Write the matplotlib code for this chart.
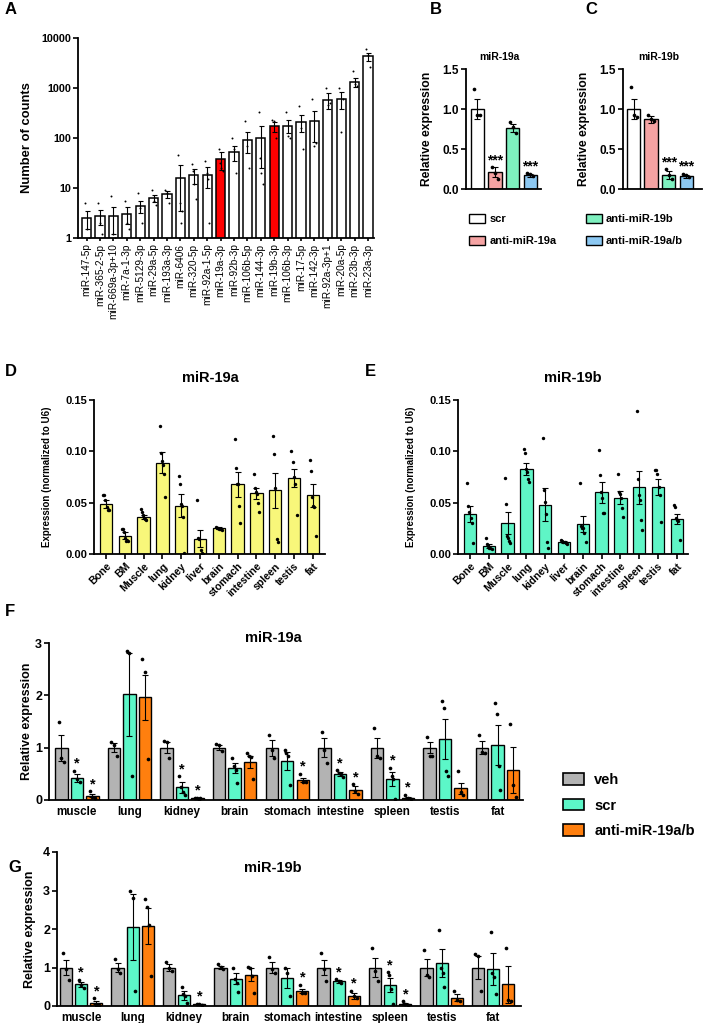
import numpy as np
import matplotlib
matplotlib.use("Agg")
from matplotlib import pyplot as plt
from matplotlib.patches import Patch
from matplotlib.ticker import FixedLocator, NullLocator

plt.rcParams['font.family'] = ['Liberation Sans', 'DejaVu Sans']
plt.rcParams['font.weight'] = 'bold'

# ---------------- data ----------------
# panel A: small RNA counts
mirs = ['miR-147-5p', 'miR-365-2-5p', 'miR-669a-3p+10', 'miR-7a-1-3p', 'miR-5129-3p',
        'miR-29a-5p', 'miR-193a-3p', 'miR-6406', 'miR-320-5p', 'miR-92a-1-5p',
        'miR-19a-3p', 'miR-92b-3p', 'miR-106b-5p', 'miR-144-3p', 'miR-19b-3p',
        'miR-106b-3p', 'miR-17-5p', 'miR-142-3p', 'miR-92a-3p+1', 'miR-20a-5p',
        'miR-23b-3p', 'miR-23a-3p']
counts = [2.5, 2.7, 2.7, 3.0, 4.4, 6.2, 7.5, 16, 18, 18, 38, 52, 92, 100, 170,
          175, 210, 215, 580, 600, 1300, 4300]
counts_err = [1.0, 0.9, 1.5, 1.1, 1.2, 1.0, 1.3, 12.5, 6, 8, 15, 17, 42, 75, 40,
              50, 80, 130, 200, 220, 250, 800]
counts_pts = [[5.0, 1.5, 1.0], [5.0, 2.0, 1.2], [7.0, 1.2, 1.0], [5.5, 2.0, 1.5],
              [8.0, 4.0, 2.0], [9.0, 5.5, 4.5], [9.0, 8.0, 5.0], [45, 5, 2.0, 3.5],
              [30, 22, 12, 6], [35, 20, 15, 2], [60, 32, 25, 22], [100, 60, 20],
              [220, 70, 25], [330, 40, 20, 12], [230, 220, 100], [330, 110, 100],
              [430, 160, 60], [600, 70, 80], [1000, 450, 500], [1000, 130, 600],
              [2200, 1200, 1100], [6000, 4500, 2600]]
highlight = ['miR-19a-3p', 'miR-19b-3p']

# panels B, C
groups_bc = ['scr', 'anti-miR-19a', 'anti-miR-19b', 'anti-miR-19a/b']
b_mean = [1.0, 0.21, 0.76, 0.17]
b_err = [0.12, 0.06, 0.05, 0.02]
b_pts = [[1.25, 0.92, 0.93], [0.27, 0.20, 0.13], [0.84, 0.78, 0.70], [0.20, 0.19, 0.16]]
b_sig = ['', '***', '', '***']
c_mean = [1.0, 0.87, 0.18, 0.16]
c_err = [0.13, 0.04, 0.05, 0.02]
c_pts = [[1.27, 0.93, 0.90], [0.93, 0.87, 0.85], [0.25, 0.18, 0.12], [0.19, 0.17, 0.15]]
c_sig = ['', '', '***', '***']

# panels D, E
tissues = ['Bone', 'BM', 'Muscle', 'lung', 'kidney', 'liver', 'brain', 'stomach',
           'intestine', 'spleen', 'testis', 'fat']
d_mean = [0.049, 0.018, 0.036, 0.089, 0.047, 0.015, 0.025, 0.068, 0.059, 0.062, 0.074, 0.057]
d_err = [0.004, 0.003, 0.002, 0.010, 0.011, 0.008, 0.001, 0.012, 0.005, 0.017, 0.009, 0.011]
d_pts = [[0.057, 0.057, 0.053, 0.046, 0.043, 0.043],
         [0.024, 0.024, 0.021, 0.016, 0.013, 0.013],
         [0.044, 0.041, 0.038, 0.035, 0.034, 0.033],
         [0.125, 0.098, 0.091, 0.087, 0.078, 0.056],
         [0.076, 0.068, 0.049, 0.047, 0.036, 0.001],
         [0.053, 0.016, 0.015, 0.004, 0.001, 0.0],
         [0.026, 0.025, 0.025, 0.024, 0.024, 0.023],
         [0.112, 0.084, 0.068, 0.068, 0.047, 0.030],
         [0.078, 0.064, 0.060, 0.058, 0.050, 0.041],
         [0.115, 0.097, 0.064, 0.015, 0.012],
         [0.100, 0.090, 0.075, 0.068, 0.038],
         [0.092, 0.081, 0.056, 0.047, 0.046, 0.018]]
e_mean = [0.039, 0.008, 0.030, 0.083, 0.048, 0.012, 0.029, 0.060, 0.055, 0.065, 0.065, 0.034]
e_err = [0.008, 0.002, 0.011, 0.006, 0.016, 0.001, 0.008, 0.010, 0.006, 0.016, 0.008, 0.005]
e_pts = [[0.069, 0.047, 0.041, 0.035, 0.030, 0.011],
         [0.016, 0.010, 0.008, 0.006, 0.006, 0.005],
         [0.074, 0.049, 0.018, 0.016, 0.013, 0.011],
         [0.102, 0.098, 0.083, 0.080, 0.073, 0.070],
         [0.113, 0.062, 0.051, 0.039, 0.012, 0.006],
         [0.014, 0.013, 0.012, 0.012, 0.011, 0.010],
         [0.069, 0.027, 0.025, 0.025, 0.020, 0.012],
         [0.101, 0.077, 0.060, 0.055, 0.040, 0.040],
         [0.078, 0.060, 0.058, 0.055, 0.045, 0.036],
         [0.139, 0.073, 0.057, 0.053, 0.033, 0.023],
         [0.082, 0.082, 0.078, 0.065, 0.057, 0.031],
         [0.048, 0.046, 0.035, 0.033, 0.032, 0.014]]

# panels F, G
organs = ['muscle', 'lung', 'kidney', 'brain', 'stomach', 'intestine', 'spleen', 'testis', 'fat']
treatments = ['veh', 'scr', 'anti-miR-19a/b']
f_mean = {'veh': [1.0] * 9,
          'scr': [0.42, 2.02, 0.24, 0.61, 0.74, 0.50, 0.40, 1.17, 1.05],
          'anti-miR-19a/b': [0.08, 1.96, 0.03, 0.73, 0.38, 0.20, 0.04, 0.22, 0.58]}
f_err = {'veh': [0.25, 0.08, 0.10, 0.05, 0.15, 0.18, 0.19, 0.10, 0.12],
         'scr': [0.08, 0.79, 0.10, 0.10, 0.17, 0.04, 0.13, 0.38, 0.39],
         'anti-miR-19a/b': [0.03, 0.43, 0.01, 0.12, 0.04, 0.07, 0.02, 0.11, 0.44]}
f_pts = {'veh': [[1.5, 0.8, 0.72], [1.1, 1.05, 0.85], [1.12, 1.1, 0.8], [1.07, 1.05, 0.93],
                 [1.25, 0.95, 0.8], [1.3, 0.95, 0.7], [1.38, 0.85, 0.8], [1.2, 0.85, 0.85],
                 [1.25, 0.92, 0.9]],
         'scr': [[0.56, 0.4, 0.35], [2.85, 2.8, 0.45], [0.45, 0.25, 0.15, 0.1],
                 [0.8, 0.65, 0.58, 0.33], [0.95, 0.9, 0.85, 0.28], [0.57, 0.52, 0.5, 0.43],
                 [0.62, 0.45, 0.4, 0.02], [1.9, 1.75, 0.55, 0.45], [1.85, 1.65, 0.65, 0.2]],
         'anti-miR-19a/b': [[0.17, 0.05, 0.03], [2.7, 2.45, 0.78], [0.04, 0.03, 0.02, 0.03],
                            [0.9, 0.85, 0.82, 0.4], [0.5, 0.35, 0.35], [0.3, 0.18, 0.12],
                            [0.1, 0.03, 0.01], [0.55, 0.15, 0.1], [1.45, 0.28, 0.05]]}
f_sig = {'veh': [0] * 9,
         'scr': [1, 0, 1, 0, 0, 1, 1, 0, 0],
         'anti-miR-19a/b': [1, 0, 1, 0, 1, 1, 1, 0, 0]}

g_mean = {'veh': [1.0] * 9,
          'scr': [0.56, 2.05, 0.28, 0.71, 0.74, 0.64, 0.55, 1.11, 0.96],
          'anti-miR-19a/b': [0.08, 2.07, 0.04, 0.81, 0.38, 0.27, 0.05, 0.22, 0.57]}
g_err = {'veh': [0.20, 0.12, 0.08, 0.05, 0.15, 0.20, 0.25, 0.23, 0.30],
         'scr': [0.06, 0.85, 0.12, 0.15, 0.26, 0.03, 0.18, 0.36, 0.41],
         'anti-miR-19a/b': [0.04, 0.47, 0.01, 0.17, 0.05, 0.08, 0.02, 0.08, 0.48]}
g_pts = {'veh': [[1.38, 0.95, 0.68], [1.22, 0.95, 0.85], [1.15, 1.0, 0.92], [1.08, 1.02, 0.95],
                 [1.28, 0.95, 0.85], [1.37, 0.95, 0.65], [1.5, 0.9, 0.65], [1.45, 0.8, 0.75],
                 [1.36, 1.3, 0.4]],
         'scr': [[0.68, 0.55, 0.47], [3.0, 2.8, 0.38], [0.5, 0.3, 0.25, 0.08],
                 [1.0, 0.7, 0.6, 0.37], [1.0, 0.87, 0.27], [0.7, 0.65, 0.6],
                 [0.88, 0.8, 0.45, 0.05], [1.97, 1.0, 0.85, 0.5], [1.92, 0.85, 0.75, 0.3]],
         'anti-miR-19a/b': [[0.2, 0.03, 0.02], [2.77, 2.58, 2.1, 0.77], [0.06, 0.04, 0.03],
                            [1.02, 1.0, 0.78, 0.33], [0.55, 0.35, 0.33], [0.4, 0.25, 0.2],
                            [0.12, 0.04, 0.02], [0.4, 0.15, 0.13], [1.5, 0.15, 0.12]]}
g_sig = {'veh': [0] * 9,
         'scr': [1, 0, 0, 0, 0, 1, 1, 0, 0],
         'anti-miR-19a/b': [1, 0, 1, 0, 1, 1, 1, 0, 0]}

# ---------------- styling ----------------
bc_colors = ['#ffffff', '#f5a3a3', '#7ef0bf', '#8cc8f2']
fg_colors = {'veh': '#b3b3b3', 'scr': '#5cf7c8', 'anti-miR-19a/b': '#ff7f0e'}
yellow = '#f8f77a'
mint = '#5ff5c6'

W, H = 709, 1023
fig = plt.figure(figsize=(W / 100, H / 100), dpi=100)


def px_axes(left, top, right, bottom):
    return fig.add_axes([left / W, 1 - bottom / H, (right - left) / W, (bottom - top) / H])


def txt(x, y, s, **kw):
    return fig.text(x / W, 1 - y / H, s, **kw)


def clean(ax, ticksize=8):
    for s in ['top', 'right']:
        ax.spines[s].set_visible(False)
    for s in ['left', 'bottom']:
        ax.spines[s].set_linewidth(1.3)
    ax.tick_params(width=1.2, length=3.5, labelsize=ticksize, pad=1.5)


def bars(ax, x, mean, err, pts, colors, width, dot=6, lw=0.9, cap=2.5):
    ax.bar(x, mean, width, color=colors, edgecolor='black', linewidth=lw, zorder=2)
    ax.errorbar(x, mean, yerr=err, fmt='none', ecolor='black', elinewidth=0.8,
                capsize=cap, capthick=0.8, zorder=3)
    for xi, p in zip(x, pts):
        offs = np.linspace(-1, 1, len(p)) * width * 0.22 if len(p) > 1 else [0]
        ax.scatter(xi + np.asarray(offs), p, s=dot, color='black', linewidths=0, zorder=4)


# ---------------- panel A ----------------
axA = px_axes(78, 38, 374, 238)
clean(axA)
axA.set_yscale('log', nonpositive='clip')
xa = np.arange(len(mirs))
colA = ['#ff0000' if m in highlight else 'white' for m in mirs]
bars(axA, xa, counts, counts_err, counts_pts, colA, 0.68, dot=2, lw=1.1, cap=1.8)
axA.set_ylim(1, 10000)
axA.set_xlim(-0.64, 21.45)
axA.yaxis.set_major_locator(FixedLocator([1, 10, 100, 1000, 10000]))
axA.yaxis.set_minor_locator(NullLocator())
axA.set_yticklabels(['1', '10', '100', '1000', '10000'], fontsize=7.8)
axA.set_xticks(xa)
axA.set_xticklabels(mirs, rotation=90, fontsize=7.3, fontweight='normal')
axA.tick_params(axis='x', length=2.5)
txt(27, 138, 'Number of counts', rotation=90, ha='center', va='center', fontsize=9.4)
txt(5, 10, 'A', fontsize=12, ha='left', va='center')

# ---------------- panels B, C ----------------
for (l, r, c0, mean, err, pts, sig, title, letter, lx) in [
        (466, 541, -0.65, b_mean, b_err, b_pts, b_sig, 'miR-19a', 'B', 430),
        (623, 702, -0.6, c_mean, c_err, c_pts, c_sig, 'miR-19b', 'C', 585)]:
    ax = px_axes(l, 69, r, 189)
    clean(ax, 8.5)
    xb = np.arange(4)
    bars(ax, xb, mean, err, pts, bc_colors, 0.76, dot=7, lw=1.0)
    ax.set_ylim(0, 1.5)
    ax.set_xlim(c0, c0 + (r - l) / 17.6)
    ax.set_yticks([0, 0.5, 1.0, 1.5])
    ax.set_yticklabels(['0.0', '0.5', '1.0', '1.5'])
    ax.set_xticks([])
    for xi, m, e, p, s in zip(xb, mean, err, pts, sig):
        if s:
            ax.annotate(s, (xi, max(max(p), m + e)), xytext=(0, 0), textcoords='offset points',
                        ha='center', va='bottom', fontsize=10)
    txt((l + r) / 2 - 4, 57, title, ha='center', va='center', fontsize=7.5)
    txt(l - 39, 129, 'Relative expression', rotation=90, ha='center', va='center', fontsize=8.7)
    txt(lx, 10, letter, fontsize=12, ha='left', va='center')

handles_bc = [Patch(facecolor=c, edgecolor='black', linewidth=1.0) for c in bc_colors]
fig.legend(handles_bc, groups_bc, ncol=2, loc='upper left',
           bbox_to_anchor=(469 / W, 1 - 214 / H), frameon=False, fontsize=8,
           handlelength=1.45, handleheight=0.9, handletextpad=0.4,
           columnspacing=2.6, labelspacing=1.0, borderpad=0, borderaxespad=0)

# ---------------- panels D, E ----------------
for (l, r, mean, err, pts, color, title, letter, lx, tx) in [
        (94, 325, d_mean, d_err, d_pts, yellow, 'miR-19a', 'D', 5, 210),
        (458, 688, e_mean, e_err, e_pts, mint, 'miR-19b', 'E', 365, 573)]:
    ax = px_axes(l, 400, r, 554)
    clean(ax, 8)
    xd = np.arange(len(tissues))
    bars(ax, xd, mean, err, pts, color, 0.66, dot=6, lw=0.9)
    ax.set_ylim(0, 0.15)
    ax.set_xlim(-0.64, -0.64 + (r - l) / 18.8)
    ax.set_yticks([0, 0.05, 0.10, 0.15])
    ax.set_yticklabels(['0.00', '0.05', '0.10', '0.15'])
    ax.set_xticks(xd)
    ax.set_xticklabels(tissues, rotation=45, ha='right', rotation_mode='anchor', fontsize=7.6)
    txt(l - 47, 477, 'Expression (normalized to U6)', rotation=90, ha='center', va='center',
        fontsize=7)
    txt(tx, 378, title, ha='center', va='center', fontsize=10.5)
    txt(lx, 371, letter, fontsize=12, ha='left', va='center')

# ---------------- panels F, G ----------------
offsets = [-0.295, 0.0, 0.295]
for (l, r, top, bottom, c0, mean, err, pts, sig, ymax, title, letter, ty, ly, lab_x) in [
        (49, 523, 643, 800, -0.53, f_mean, f_err, f_pts, f_sig, 3, 'miR-19a', 'F', 638, 612, 27),
        (57, 521, 852, 1006, -0.47, g_mean, g_err, g_pts, g_sig, 4, 'miR-19b', 'G', 868, 868, 30)]:
    ax = px_axes(l, top, r, bottom)
    clean(ax, 9)
    xg = np.arange(len(organs))
    spacing = 52.6 if letter == 'F' else 51.5
    for off, tr in zip(offsets, treatments):
        bars(ax, xg + off, mean[tr], err[tr], pts[tr], fg_colors[tr], 0.235, dot=7, lw=1.0,
             cap=2.2)
        for xi, m, e, p, s in zip(xg + off, mean[tr], err[tr], pts[tr], sig[tr]):
            if s:
                ax.annotate('*', (xi, max(max(p), m + e)), xytext=(0, 0),
                            textcoords='offset points', ha='center', va='bottom', fontsize=10.5)
    ax.set_ylim(0, ymax)
    ax.set_xlim(c0, c0 + (r - l) / spacing)
    ax.set_yticks(range(ymax + 1))
    ax.set_xticks(xg)
    ax.set_xticklabels(organs, fontsize=8.4)
    ax.tick_params(axis='x', length=0, pad=4)
    txt(lab_x, (top + bottom) / 2, 'Relative expression', rotation=90, ha='center',
        va='center', fontsize=9)
    txt(273, ty, title, ha='center', va='center', fontsize=10.5)
    txt(5 if letter == 'F' else 8, ly, letter, fontsize=12, ha='left', va='center')

handles_fg = [Patch(facecolor=fg_colors[t], edgecolor='black', linewidth=1.2) for t in treatments]
fig.legend(handles_fg, treatments, loc='upper left', bbox_to_anchor=(563 / W, 1 - 773 / H),
           frameon=False, fontsize=10.5, handlelength=1.45, handleheight=0.85,
           handletextpad=0.7, labelspacing=0.8, borderpad=0, borderaxespad=0)

fig.savefig('out.png', dpi=100)
